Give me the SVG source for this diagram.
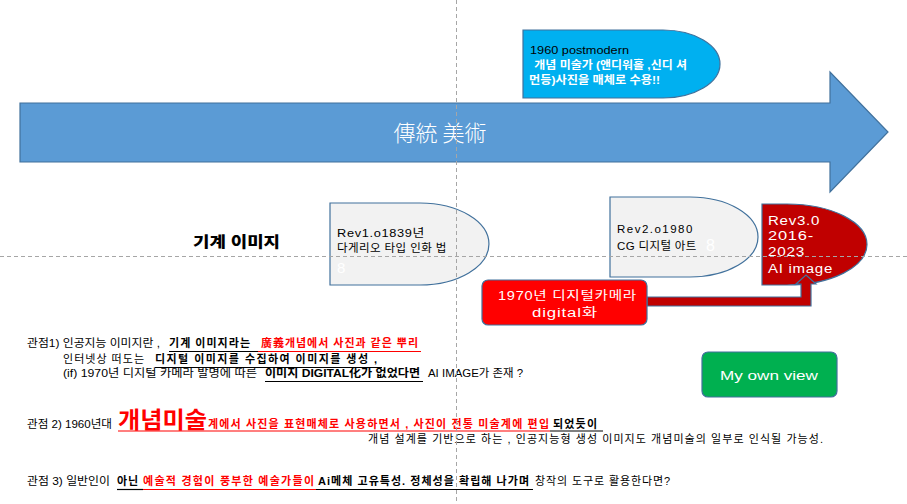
<svg xmlns="http://www.w3.org/2000/svg" width="907" height="504" viewBox="0 0 907 504">
<style>
text{font-family:"Liberation Sans","Noto Sans CJK KR",sans-serif;}
.k{font-size:11px;fill:#000;}
.b{font-weight:bold;}
.r{fill:#ff0000;font-weight:bold;}
.w{fill:#fff;}
.lbl{font-size:12px;letter-spacing:0.6px;}
.ul{stroke:#000;stroke-width:1.2;}
.ulr{stroke:#ff0000;stroke-width:1.2;}
.guide{stroke:#a6a6a6;stroke-width:1;stroke-dasharray:4 3;fill:none;}
.edge{stroke:#41719c;stroke-width:1.2;}
</style>
<rect width="907" height="504" fill="#fff"/>

<g id="main-arrow">
<path d="M20,103 H830 V72 L888,132 L830,192 V162 H20 Z" fill="#5b9bd5" class="edge"/>
<text x="440" y="141" text-anchor="middle" class="w" style="font-size:22px;font-family:'Noto Sans CJK KR','Noto Sans CJK SC',sans-serif;font-weight:300">傳統 美術</text>
</g>

<g id="callout-1960">
<path d="M523,30 H663 A57,34 0 0 1 663,98 H523 Z" fill="#00b0f0" class="edge"/>
<text x="530" y="54" class="k" textLength="99" lengthAdjust="spacingAndGlyphs">1960 postmodern</text>
<text x="531" y="69" class="k w b" textLength="156" lengthAdjust="spacingAndGlyphs" xml:space="preserve"> 개념 미술가 (앤디워홀 ,신디 셔</text>
<text x="529" y="84" class="k w b" textLength="131" lengthAdjust="spacingAndGlyphs">먼등)사진을 매체로 수용!!</text>
</g>

<g id="label-machine">
<text x="193" y="247" class="b" style="font-size:15px;font-weight:900" textLength="87" lengthAdjust="spacingAndGlyphs">기계 이미지</text>
</g>

<g id="rev1">
<path d="M330,203 H420 A69,41 0 0 1 420,285 H330 Z" fill="#f2f2f2" class="edge"/>
<text x="337" y="237" class="lbl" style="font-size:11.5px" textLength="88" lengthAdjust="spacingAndGlyphs">Rev1.o1839년</text>
<text x="337" y="252" class="lbl" style="font-size:11.5px" textLength="110" lengthAdjust="spacing">다게리오 타입 인화 법</text>
<text x="337" y="273" class="w" style="font-size:15px">8</text>
</g>

<g id="rev2">
<path d="M610,197 H690 A68,40 0 0 1 690,277 H610 Z" fill="#f2f2f2" class="edge"/>
<text x="617" y="233" class="lbl" style="font-size:11.5px" textLength="76" lengthAdjust="spacing">Rev2.o1980</text>
<text x="617" y="250" class="lbl" style="font-size:11.5px" textLength="80" lengthAdjust="spacing">CG 디지털 아트</text>
<text x="706" y="251" class="w" style="font-size:16px">8</text>
</g>

<g id="rev3">
<path d="M762,204 H787 A80,40.5 0 0 1 787,285 H762 Z" fill="#c00000" class="edge"/>
<text x="768" y="225" class="lbl w" style="font-size:12.5px" textLength="52" lengthAdjust="spacingAndGlyphs">Rev3.0</text>
<text x="768" y="240" class="lbl w" style="font-size:12.5px" textLength="46" lengthAdjust="spacingAndGlyphs">2016-</text>
<text x="768" y="256" class="lbl w" style="font-size:12.5px" textLength="37" lengthAdjust="spacingAndGlyphs">2023</text>
<text x="768" y="273" class="lbl w" style="font-size:12.5px" textLength="65" lengthAdjust="spacingAndGlyphs">AI image</text>
</g>

<g id="connectors">
<path d="M647,297 H801 V284 H796 L806,275 L816,284 H811 V306 H647 Z" fill="#c00000" class="edge"/>
</g>

<g id="digital-1970">
<rect x="482" y="280" width="165" height="45" rx="6" fill="#ff0000" class="edge"/>
<text x="498" y="300" class="lbl w" textLength="139" lengthAdjust="spacingAndGlyphs">1970년 디지털카메라</text>
<text x="532" y="317" class="lbl w" textLength="66" lengthAdjust="spacingAndGlyphs">digital화</text>
</g>

<g id="my-own-view">
<rect x="702" y="352" width="135" height="45" rx="6" fill="#00b050" class="edge"/>
<text x="720" y="380" class="w" style="font-size:13px" textLength="98" lengthAdjust="spacingAndGlyphs">My own view</text>
</g>

<g id="viewpoint-1">
<text x="27" y="347" class="k" textLength="133" lengthAdjust="spacingAndGlyphs">관점1) 인공지능 이미지란 ,</text>
<text x="169" y="347" class="k b" textLength="81" lengthAdjust="spacing">기계 이미지라는</text>
<text x="261" y="347" class="k r" textLength="157" lengthAdjust="spacing">廣義개념에서 사진과 같은 뿌리</text>
<line x1="169" y1="351.5" x2="258" y2="351.5" class="ul"/>
<line x1="258" y1="351.5" x2="421" y2="351.5" class="ulr"/>
<text x="63" y="363" class="k" textLength="81" lengthAdjust="spacing">인터넷상 떠도는</text>
<text x="155" y="363" class="k b" textLength="222" lengthAdjust="spacing">디지털 이미지를 수집하여 이미지를 생성 ,</text>
<line x1="155" y1="367.5" x2="382" y2="367.5" class="ul"/>
<text x="63" y="377" class="k" textLength="194" lengthAdjust="spacingAndGlyphs">(if) 1970년 디지털 카메라 발명에 따른</text>
<text x="265" y="377" class="k b" textLength="155" lengthAdjust="spacingAndGlyphs">이미지 DIGITAL化가 없었다면</text>
<line x1="265" y1="381.5" x2="423" y2="381.5" class="ul"/>
<text x="428" y="377" class="k" textLength="95" lengthAdjust="spacingAndGlyphs">AI IMAGE가 존재 ?</text>
</g>

<g id="viewpoint-2">
<text x="27" y="428" class="k" textLength="85" lengthAdjust="spacingAndGlyphs">관점 2) 1960년대</text>
<text x="118" y="428" class="r" style="font-size:23px" textLength="89" lengthAdjust="spacingAndGlyphs">개념미술</text>
<text x="208" y="428" class="k r" textLength="341" lengthAdjust="spacing">계에서 사진을 표현매체로 사용하면서 , 사진이 전통 미술계에 편입</text>
<text x="553" y="428" class="k b" textLength="44" lengthAdjust="spacing">되었듯이</text>
<line x1="118" y1="431" x2="550" y2="431" class="ulr"/>
<line x1="550" y1="431" x2="603" y2="431" class="ul"/>
<text x="368" y="443" class="k" textLength="455" lengthAdjust="spacing">개념 설계를 기반으로 하는 , 인공지능형 생성 이미지도 개념미술의 일부로 인식될 가능성.</text>
</g>

<g id="viewpoint-3">
<text x="27" y="485" class="k" textLength="83" lengthAdjust="spacingAndGlyphs">관점 3) 일반인이</text>
<text x="117" y="485" class="k b" textLength="21" lengthAdjust="spacing">아닌</text>
<text x="143" y="485" class="k r" textLength="171" lengthAdjust="spacing">예술적 경험이 풍부한 예술가들이</text>
<text x="318" y="485" class="k b" textLength="211" lengthAdjust="spacing">Ai메체 고유특성. 정체성을 확립해 나가며</text>
<text x="535" y="485" class="k" textLength="135" lengthAdjust="spacing">창작의 도구로 활용한다면?</text>
<line x1="117" y1="489.5" x2="143" y2="489.5" class="ul"/>
<line x1="143" y1="489.5" x2="316" y2="489.5" class="ulr"/>
<line x1="316" y1="489.5" x2="533" y2="489.5" class="ul"/>
</g>

<g id="guides">
<line x1="456.5" y1="0" x2="456.5" y2="504" class="guide"/>
<line x1="0" y1="256.5" x2="907" y2="256.5" class="guide"/>
</g>
</svg>
